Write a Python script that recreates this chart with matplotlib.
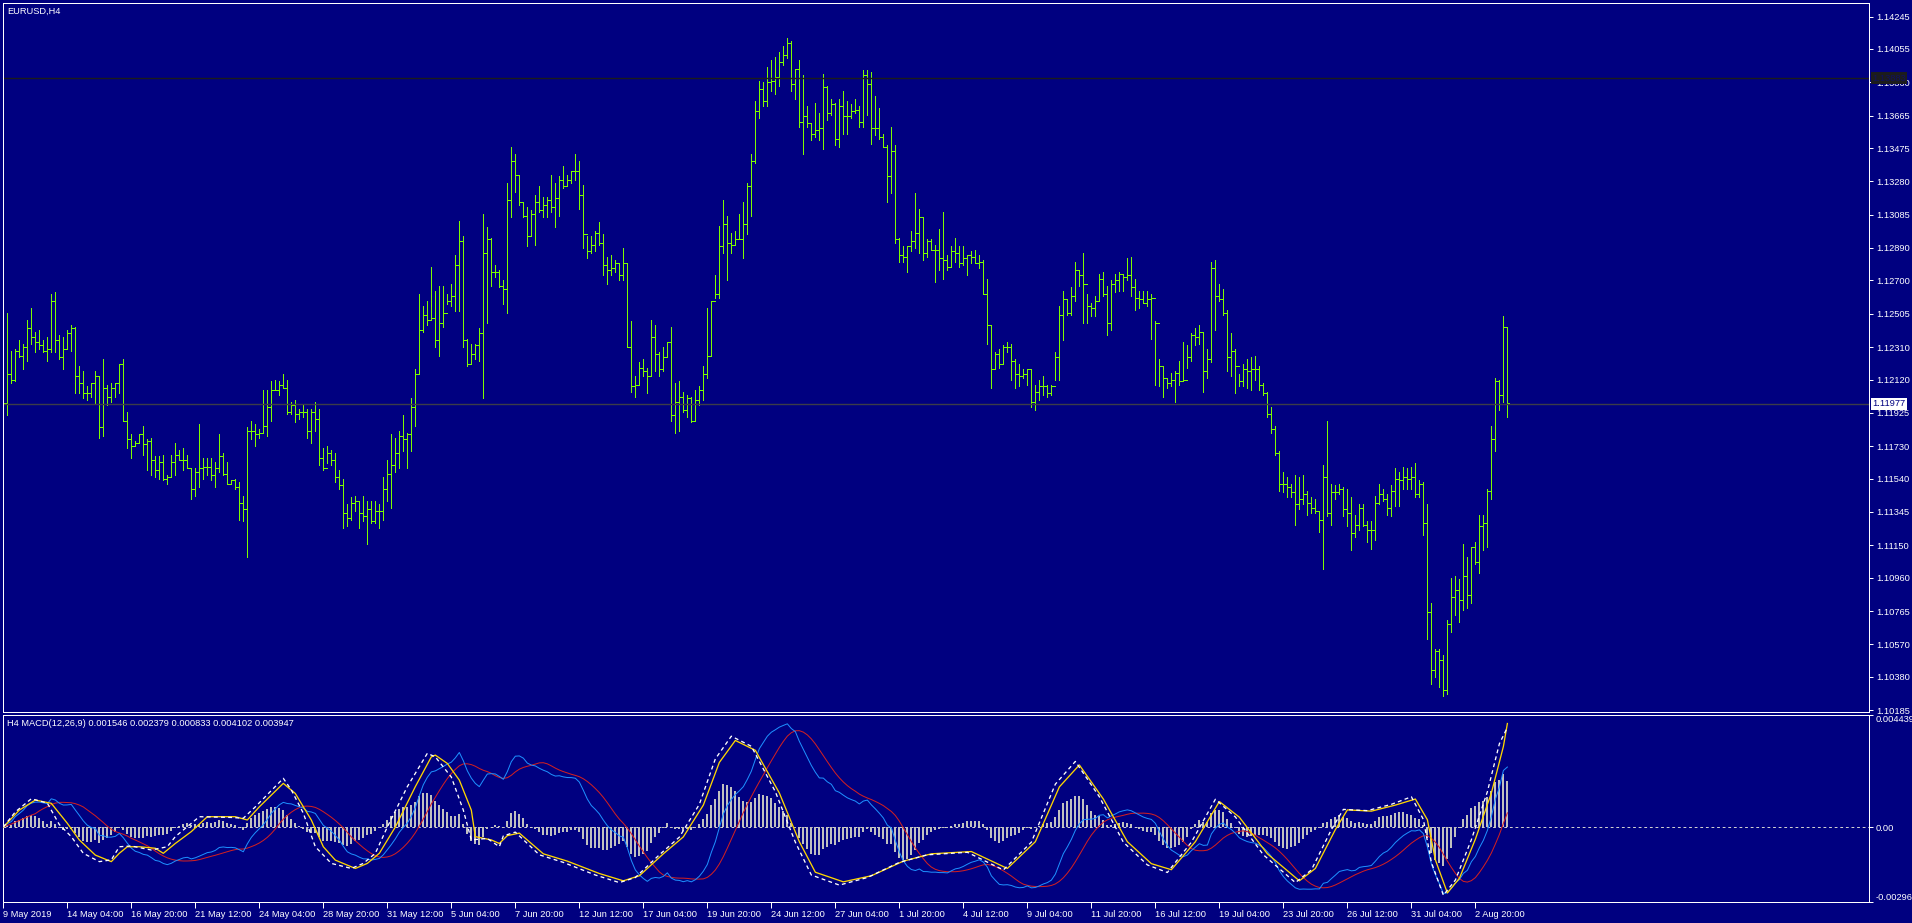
import numpy as np
import pandas as pd
import matplotlib
matplotlib.use("Agg")
import matplotlib.pyplot as plt

plt.rcParams['font.family'] = ['Liberation Sans', 'DejaVu Sans']

# EURUSD H4 bars (prices in pips of 0.0001)
highs_pips = [
    11201, 11251, 11229, 11230, 11235, 11233, 11247, 11254, 11240, 11241,
    11235, 11237, 11262, 11263, 11238, 11237, 11241, 11244, 11243, 11220,
    11217, 11208, 11210, 11217, 11214, 11224, 11209, 11210, 11210, 11221,
    11224, 11193, 11180, 11176, 11180, 11185, 11177, 11178, 11167, 11167,
    11168, 11156, 11168, 11175, 11171, 11172, 11168, 11160, 11160, 11186,
    11166, 11166, 11166, 11164, 11180, 11169, 11164, 11153, 11154, 11152,
    11144, 11184, 11188, 11186, 11183, 11206, 11206, 11211, 11212, 11211,
    11215, 11212, 11199, 11200, 11195, 11197, 11195, 11195, 11199, 11195,
    11172, 11173, 11171, 11169, 11159, 11154, 11139, 11143, 11144, 11141,
    11144, 11141, 11141, 11141, 11139, 11155, 11165, 11180, 11178, 11182,
    11191, 11181, 11201, 11218, 11262, 11255, 11258, 11278, 11264, 11267,
    11267, 11262, 11268, 11285, 11305, 11296, 11236, 11233, 11233, 11242,
    11309, 11301, 11295, 11279, 11276, 11270, 11327, 11348, 11344, 11331,
    11316, 11313, 11311, 11320, 11325, 11319, 11319, 11332, 11327, 11331,
    11337, 11332, 11334, 11344, 11340, 11326, 11296, 11296, 11299, 11304,
    11297, 11284, 11285, 11282, 11280, 11289, 11280, 11246, 11214, 11222,
    11224, 11219, 11247, 11244, 11228, 11231, 11234, 11243, 11210, 11211,
    11205, 11203, 11202, 11206, 11208, 11220, 11254, 11258, 11273, 11302,
    11317, 11308, 11298, 11299, 11309, 11316, 11327, 11344, 11375, 11387,
    11386, 11395, 11399, 11401, 11404, 11407, 11412, 11410, 11394, 11399,
    11390, 11372, 11362, 11374, 11368, 11391, 11384, 11376, 11374, 11376,
    11381, 11375, 11373, 11376, 11372, 11393, 11393, 11392, 11378, 11371,
    11356, 11349, 11360, 11349, 11295, 11290, 11290, 11299, 11321, 11312,
    11307, 11294, 11294, 11291, 11300, 11310, 11285, 11290, 11295, 11290,
    11290, 11285, 11287, 11288, 11285, 11282, 11271, 11244, 11228, 11230,
    11232, 11234, 11233, 11224, 11221, 11218, 11218, 11218, 11209, 11212,
    11214, 11209, 11209, 11228, 11255, 11264, 11259, 11266, 11281, 11276,
    11286, 11262, 11257, 11261, 11274, 11275, 11267, 11270, 11274, 11275,
    11274, 11283, 11284, 11271, 11264, 11264, 11264, 11262, 11246, 11224,
    11220, 11213, 11216, 11217, 11223, 11234, 11232, 11239, 11242, 11244,
    11240, 11230, 11281, 11282, 11268, 11265, 11253, 11239, 11230, 11215,
    11221, 11224, 11225, 11226, 11220, 11210, 11205, 11196, 11185, 11170,
    11158, 11155, 11151, 11156, 11155, 11156, 11147, 11143, 11142, 11135,
    11162, 11188, 11151, 11150, 11151, 11149, 11148, 11143, 11133, 11139,
    11139, 11129, 11129, 11144, 11151, 11148, 11145, 11150, 11160, 11158,
    11161, 11160, 11161, 11163, 11153, 11152, 11139, 11081, 11054, 11054,
    11051, 11071, 11096, 11097, 11095, 11116, 11108, 11114, 11117, 11133,
    11133, 11148, 11185, 11213, 11212, 11249, 11243,
]
lows_pips = [
    11185, 11191, 11210, 11211, 11225, 11218, 11223, 11233, 11228, 11230,
    11228, 11223, 11228, 11228, 11224, 11218, 11230, 11229, 11204, 11204,
    11201, 11200, 11202, 11198, 11178, 11179, 11197, 11199, 11202, 11204,
    11188, 11172, 11166, 11173, 11175, 11168, 11159, 11156, 11155, 11154,
    11153, 11151, 11155, 11156, 11165, 11159, 11160, 11142, 11144, 11149,
    11154, 11156, 11153, 11149, 11158, 11156, 11151, 11151, 11148, 11130,
    11129, 11108, 11177, 11173, 11178, 11181, 11179, 11188, 11206, 11203,
    11207, 11192, 11192, 11187, 11189, 11190, 11178, 11175, 11182, 11162,
    11159, 11163, 11162, 11152, 11148, 11125, 11126, 11130, 11135, 11125,
    11129, 11116, 11128, 11128, 11125, 11130, 11141, 11137, 11158, 11160,
    11170, 11160, 11170, 11185, 11215, 11240, 11244, 11247, 11231, 11226,
    11243, 11256, 11255, 11252, 11252, 11231, 11220, 11221, 11224, 11223,
    11201, 11245, 11267, 11272, 11266, 11256, 11251, 11307, 11322, 11314,
    11307, 11290, 11296, 11291, 11310, 11307, 11307, 11310, 11301, 11308,
    11324, 11325, 11327, 11329, 11312, 11289, 11283, 11286, 11287, 11291,
    11273, 11268, 11273, 11275, 11270, 11270, 11231, 11205, 11202, 11209,
    11214, 11204, 11214, 11217, 11214, 11217, 11225, 11188, 11181, 11182,
    11193, 11190, 11187, 11188, 11197, 11200, 11213, 11226, 11260, 11260,
    11286, 11270, 11286, 11291, 11294, 11283, 11297, 11308, 11339, 11365,
    11372, 11372, 11381, 11379, 11384, 11396, 11400, 11381, 11376, 11360,
    11344, 11360, 11352, 11354, 11352, 11347, 11364, 11367, 11349, 11348,
    11356, 11356, 11365, 11368, 11360, 11360, 11367, 11350, 11355, 11353,
    11348, 11316, 11321, 11292, 11281, 11281, 11275, 11287, 11289, 11286,
    11282, 11284, 11288, 11269, 11276, 11271, 11276, 11278, 11281, 11278,
    11279, 11273, 11280, 11280, 11277, 11262, 11233, 11207, 11218, 11219,
    11221, 11228, 11212, 11207, 11208, 11213, 11209, 11196, 11194, 11200,
    11203, 11202, 11203, 11212, 11212, 11235, 11250, 11250, 11258, 11267,
    11245, 11245, 11249, 11249, 11258, 11261, 11238, 11241, 11263, 11264,
    11264, 11270, 11261, 11253, 11254, 11257, 11255, 11236, 11209, 11208,
    11202, 11207, 11208, 11199, 11209, 11211, 11219, 11223, 11232, 11233,
    11205, 11213, 11222, 11241, 11258, 11250, 11217, 11214, 11204, 11208,
    11208, 11207, 11206, 11212, 11206, 11203, 11190, 11181, 11168, 11147,
    11146, 11143, 11143, 11127, 11136, 11139, 11133, 11134, 11134, 11123,
    11101, 11132, 11127, 11142, 11145, 11132, 11126, 11112, 11120, 11124,
    11126, 11117, 11113, 11118, 11139, 11141, 11133, 11132, 11138, 11138,
    11148, 11148, 11148, 11143, 11143, 11121, 11060, 11034, 11038, 11032,
    11027, 11028, 11064, 11074, 11070, 11077, 11078, 11081, 11104, 11099,
    11112, 11114, 11142, 11170, 11194, 11199, 11190,
]
closes_pips = [
    11198, 11215, 11212, 11229, 11226, 11231, 11242, 11237, 11234, 11232,
    11229, 11230, 11258, 11235, 11225, 11230, 11239, 11242, 11214, 11210,
    11204, 11204, 11210, 11214, 11184, 11207, 11202, 11207, 11210, 11221,
    11188, 11177, 11173, 11175, 11180, 11174, 11176, 11165, 11159, 11164,
    11154, 11155, 11164, 11168, 11165, 11165, 11160, 11148, 11158, 11160,
    11161, 11161, 11156, 11160, 11167, 11157, 11151, 11153, 11149, 11140,
    11136, 11182, 11182, 11180, 11181, 11185, 11196, 11206, 11206, 11209,
    11207, 11193, 11197, 11192, 11193, 11193, 11182, 11193, 11189, 11166,
    11160, 11169, 11165, 11155, 11150, 11134, 11131, 11140, 11141, 11134,
    11132, 11136, 11129, 11135, 11135, 11148, 11157, 11162, 11169, 11179,
    11177, 11180, 11196, 11215, 11241, 11250, 11247, 11248, 11235, 11245,
    11251, 11258, 11261, 11279, 11293, 11235, 11221, 11227, 11232, 11239,
    11286, 11294, 11275, 11275, 11267, 11265, 11317, 11340, 11332, 11316,
    11308, 11296, 11309, 11316, 11311, 11314, 11317, 11313, 11318, 11329,
    11325, 11329, 11334, 11334, 11320, 11297, 11287, 11291, 11298, 11292,
    11279, 11276, 11277, 11280, 11273, 11280, 11231, 11208, 11209, 11219,
    11217, 11214, 11237, 11227, 11218, 11225, 11234, 11191, 11199, 11202,
    11194, 11201, 11188, 11200, 11206, 11215, 11226, 11258, 11262, 11290,
    11303, 11292, 11291, 11294, 11294, 11303, 11325, 11340, 11369, 11382,
    11375, 11386, 11387, 11389, 11398, 11402, 11409, 11385, 11394, 11363,
    11366, 11362, 11356, 11358, 11359, 11383, 11368, 11373, 11353, 11372,
    11366, 11366, 11369, 11370, 11363, 11390, 11385, 11359, 11359, 11354,
    11348, 11331, 11346, 11294, 11285, 11284, 11290, 11293, 11298, 11307,
    11286, 11293, 11288, 11288, 11283, 11282, 11278, 11287, 11286, 11280,
    11283, 11285, 11284, 11280, 11281, 11262, 11244, 11218, 11227, 11221,
    11231, 11231, 11223, 11215, 11214, 11215, 11218, 11199, 11205, 11208,
    11208, 11204, 11208, 11225, 11250, 11259, 11251, 11261, 11276, 11273,
    11268, 11255, 11254, 11258, 11271, 11262, 11245, 11268, 11270, 11274,
    11272, 11273, 11266, 11260, 11259, 11257, 11259, 11260, 11245, 11220,
    11213, 11210, 11212, 11216, 11211, 11212, 11225, 11238, 11237, 11240,
    11217, 11224, 11277, 11261, 11259, 11251, 11225, 11229, 11220, 11211,
    11218, 11217, 11218, 11218, 11209, 11204, 11192, 11183, 11169, 11151,
    11151, 11149, 11146, 11139, 11142, 11145, 11140, 11137, 11135, 11130,
    11155, 11134, 11146, 11146, 11148, 11136, 11134, 11122, 11127, 11137,
    11127, 11124, 11124, 11140, 11145, 11142, 11137, 11147, 11154, 11153,
    11155, 11154, 11155, 11145, 11151, 11128, 11076, 11042, 11053, 11048,
    11030, 11069, 11085, 11089, 11083, 11097, 11086, 11114, 11105, 11126,
    11128, 11147, 11177, 11211, 11203, 11243, 11198,
]

yellow_bars = [0, 4, 8, 12, 16, 19, 23, 27, 29, 31, 34, 38, 40, 43, 47, 51, 58,
               61, 64, 70, 73, 77, 80, 83, 88, 91, 94, 98, 103, 107, 108, 111,
               114, 117, 118, 122, 124, 126, 129, 135, 141, 149, 155, 159, 165,
               170, 175, 179, 183, 188, 194, 199, 203, 210, 217, 225, 232, 242,
               251, 258, 264, 269, 275, 281, 287, 292, 298, 304, 309, 316, 324,
               328, 333, 336, 342, 348, 353, 356, 358, 361, 364, 368, 372, 375,
               376]
yellow_vals = [0.0, 0.00067, 0.00107, 0.00094, 0.00015, -0.00051, -0.00111,
               -0.00137, -0.00104, -0.00078, -0.00078, -0.00084, -0.00104,
               -0.00065, -0.00018, 0.00041, 0.00041, 0.00028, 0.0008, 0.00173,
               0.00133, 0.00028, -0.00078, -0.00131, -0.00164, -0.00144,
               -0.00104, 0.0, 0.0016, 0.00278, 0.00285, 0.00252, 0.00186,
               0.00067, -0.00038, -0.00051, -0.00065, -0.00034, -0.00024,
               -0.00106, -0.00135, -0.00184, -0.00213, -0.00193, -0.00106,
               -0.00039, 0.00087, 0.00256, 0.00343, 0.00304, 0.00135, -0.00058,
               -0.00179, -0.00217, -0.00193, -0.00135, -0.00106, -0.00097,
               -0.00164, -0.00058, 0.00159, 0.00246, 0.00111, -0.00058,
               -0.00145, -0.00169, -0.00058, 0.00101, 0.00039, -0.00106,
               -0.00213, -0.00164, -0.0001, 0.00068, 0.00063, 0.00087, 0.00111,
               0.00029, -0.0013, -0.00261, -0.00203, -0.00048, 0.00135,
               0.00319, 0.004102]
white_bars = [0, 3, 7, 11, 14, 17, 20, 24, 27, 29, 32, 37, 41, 43, 49, 57, 60,
              63, 70, 72, 75, 78, 82, 87, 90, 93, 96, 101, 106, 108, 112, 115,
              117, 121, 124, 125, 128, 134, 140, 148, 154, 158, 164, 169, 174,
              178, 182, 187, 193, 198, 202, 209, 216, 224, 231, 241, 250, 257,
              263, 268, 274, 280, 286, 291, 297, 303, 308, 315, 323, 327, 332,
              335, 341, 347, 352, 355, 357, 360, 363, 367, 371, 374, 376]
white_vals = [0.0, 0.0006, 0.00112, 0.00095, 0.0001, -0.00038, -0.00104,
              -0.00137, -0.0013, -0.00078, -0.00075, -0.00091, -0.00078,
              -0.00038, 0.00041, 0.00038, 0.00035, 0.0008, 0.00193, 0.00147,
              0.00055, -0.00078, -0.00144, -0.00164, -0.00144, -0.00104, 0.0,
              0.0016, 0.00292, 0.00278, 0.00198, 0.00067, -0.00051, -0.00045,
              -0.00078, -0.00035, -0.0002, -0.0011, -0.0014, -0.0019, -0.0022,
              -0.002, -0.0011, -0.0004, 0.0009, 0.0027, 0.0036, 0.0032, 0.0014,
              -0.0006, -0.0019, -0.0023, -0.002, -0.0014, -0.0011, -0.001,
              -0.0017, -0.0006, 0.0017, 0.0026, 0.0012, -0.0006, -0.0015,
              -0.0018, -0.0006, 0.0011, 0.0004, -0.0011, -0.0022, -0.0017,
              -0.0001, 0.0007, 0.00065, 0.0009, 0.0012, 0.0003, -0.0014,
              -0.0027, -0.0021, -0.0005, 0.0014, 0.0033, 0.003947]

price_ticks = [1.14245, 1.14055, 1.13860, 1.13665, 1.13475, 1.13280, 1.13085,
               1.12890, 1.12700, 1.12505, 1.12310, 1.12120, 1.11925, 1.11730,
               1.11540, 1.11345, 1.11150, 1.10960, 1.10765, 1.10570, 1.10380,
               1.10185]
level_line = 1.13883
bid_price = 1.11977

time_labels = ["9 May 2019", "14 May 04:00", "16 May 20:00", "21 May 12:00",
               "24 May 04:00", "28 May 20:00", "31 May 12:00", "5 Jun 04:00",
               "7 Jun 20:00", "12 Jun 12:00", "17 Jun 04:00", "19 Jun 20:00",
               "24 Jun 12:00", "27 Jun 04:00", "1 Jul 20:00", "4 Jul 12:00",
               "9 Jul 04:00", "11 Jul 20:00", "16 Jul 12:00", "19 Jul 04:00",
               "23 Jul 20:00", "26 Jul 12:00", "31 Jul 04:00", "2 Aug 20:00"]
bars_per_label = 16

macd_max = 0.004439
macd_min = -0.002969
macd_title = "H4 MACD(12,26,9) 0.001546 0.002379 0.000833 0.004102 0.003947"

# ---------------------------------------------------------------
highs = np.array(highs_pips) / 1e4
lows = np.array(lows_pips) / 1e4
closes = np.array(closes_pips) / 1e4
opens = np.r_[closes[0], closes[:-1]]   # each bar opens at the previous close
x = np.arange(len(closes))

# MACD(12,26,9): main = EMA12-EMA26, signal = SMA9 of main, histogram = difference
c = pd.Series(closes)
macd = c.ewm(span=12, adjust=False).mean() - c.ewm(span=26, adjust=False).mean()
signal = macd.rolling(9, min_periods=1).mean()
hist = macd - signal

W, H = 1912, 923
bg = '#000080'
green = '#7cfc00'
px = 0.72  # one pixel in points

fig = plt.figure(figsize=(W / 100, H / 100), dpi=100, facecolor=bg)
ax1 = fig.add_axes([2.5 / W, 1 - 712 / H, (1869 - 2.5) / W, (712 - 2.5) / H])
ax2 = fig.add_axes([2.5 / W, 1 - 902 / H, (1869 - 2.5) / W, (902 - 715) / H])

xmin, xmax = -0.2, 466.4
for ax in (ax1, ax2):
    ax.set_facecolor(bg)
    ax.set_xlim(xmin, xmax)
    for s in ax.spines.values():
        s.set_color('white')
        s.set_linewidth(px)
    ax.yaxis.tick_right()
    ax.tick_params(axis='y', colors='white', length=3, width=px, pad=2,
                   labelsize=6.7)

# price bars
ax1.vlines(x, lows, highs, color=green, lw=px, antialiased=False)
ax1.hlines(opens, x - 0.45, x, color=green, lw=px, antialiased=False)
ax1.hlines(closes, x, x + 0.45, color=green, lw=px, antialiased=False)
ax1.axhline(level_line, color='#1c1c1c', lw=1.0)
ax1.axhline(bid_price, color='#3c3c48', lw=1.0)
ax1.set_ylim(1.10174, 1.14327)
ax1.set_yticks(price_ticks)
ax1.set_yticklabels([f"{p:.5f}" for p in price_ticks])
ax1.set_xticks([])

ax1.annotate(f"{level_line:.5f}", xy=(1, level_line), xycoords=('axes fraction', 'data'),
             xytext=(2.3, 0), textcoords='offset points', va='center', ha='left',
             fontsize=6.7, color='#101060',
             bbox=dict(boxstyle='square,pad=0.15', fc='#1c1c1c', ec='none'),
             annotation_clip=False)
ax1.annotate(f"{bid_price:.5f}", xy=(1, bid_price), xycoords=('axes fraction', 'data'),
             xytext=(2.3, 0), textcoords='offset points', va='center', ha='left',
             fontsize=6.7, color=bg,
             bbox=dict(boxstyle='square,pad=0.15', fc='white', ec='none'),
             annotation_clip=False)

# MACD panel
ax2.axhline(0, color='#d0d0d0', lw=px, ls=(0, (2.8, 2.8)), zorder=1)
ax2.bar(x, hist, width=0.55, color='#c0c0c0', linewidth=0, zorder=2)
ax2.plot(x, signal, color='#d42020', lw=px, zorder=3)
ax2.plot(x, macd, color='#1e90ff', lw=px, zorder=4)
ax2.plot(yellow_bars, yellow_vals, color='#ffd700', lw=px * 1.3, zorder=5)
ax2.plot(white_bars, white_vals, color='white', lw=px * 1.3, ls=(0, (3, 2.5)), zorder=6)
ax2.set_ylim(macd_min, macd_max)
ax2.set_yticks([macd_max, 0, macd_min])
ax2.set_yticklabels([f"{macd_max:.6f}", "0.00", f"{macd_min:.6f}"])
ylabs = ax2.get_yticklabels()
ylabs[0].set_va('top')
ylabs[2].set_va('bottom')

ax2.set_xticks(x[::bars_per_label][:len(time_labels)])
ax2.set_xticklabels(time_labels)
ax2.tick_params(axis='x', colors='white', length=4, width=px, pad=1.5,
                labelsize=6.7)
for t in ax2.get_xticklabels():
    t.set_ha('left')

fig.text(7 / W, 1 - 11 / H, "EURUSD,H4", color='white', fontsize=6.7, va='center')
fig.text(7 / W, 1 - 723 / H, macd_title, color='white', fontsize=6.7, va='center')

fig.savefig('out.png', dpi=100, facecolor=bg)
